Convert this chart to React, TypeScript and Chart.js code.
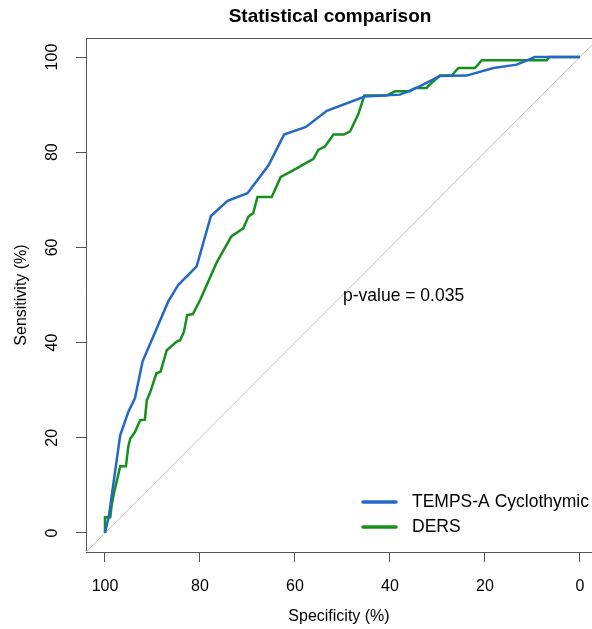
import React, { useEffect, useRef } from "react";
import { Chart, registerables } from "chart.js";

Chart.register(...registerables);

const FONT = '"Liberation Sans", Arial, Helvetica, sans-serif';

const chartTitle = "Statistical comparison";
const xTitle = "Specificity (%)";
const yTitle = "Sensitivity (%)";
const annotation = "p-value = 0.035";

const xTickValues = [100, 80, 60, 40, 20, 0];
const yTickValues = [0, 20, 40, 60, 80, 100];

const seriesNames = ["TEMPS-A Cyclothymic", "DERS"];
const seriesColors = ["#2468c6", "#16901a"];

const tempsSpec = [100, 99.2, 96.8, 95.1, 93.7, 92.1, 86.7, 84.6, 80.7, 77.7, 74.2, 70.0, 65.6, 62.3, 57.7, 53.3, 45.3, 37.9, 34.4, 29.5, 23.9, 18.2, 13.3, 9.5, 0];
const tempsSens = [0, 3.5, 20.5, 25.4, 28.3, 36.0, 48.6, 52.1, 56.0, 66.6, 69.8, 71.4, 77.2, 83.7, 85.3, 88.7, 91.7, 92.1, 93.5, 96.0, 96.1, 97.7, 98.4, 100, 100];

const dersSpec = [100, 100, 98.9, 98.6, 98.0, 97.5, 96.8, 95.6, 95.1, 94.7, 93.7, 92.6, 91.6, 91.2, 90.5, 89.2, 88.3, 87.0, 84.9, 84.2, 83.4, 82.7, 81.5, 80.0, 76.5, 73.4, 71.5, 70.9, 69.8, 68.8, 67.9, 64.9, 63.0, 60.4, 58.3, 56.1, 55.1, 53.7, 51.9, 49.7, 48.4, 46.7, 45.4, 40.8, 38.9, 35.8, 34.7, 32.3, 31.2, 29.5, 27.0, 25.6, 22.1, 20.7, 7.0, 6.5, 0];
const dersSens = [0, 3.3, 3.3, 5.8, 8.9, 11.0, 14.0, 14.0, 18.1, 19.8, 21.2, 23.7, 23.8, 27.9, 29.5, 33.5, 33.9, 38.4, 40.2, 40.5, 42.2, 45.8, 46.0, 48.9, 56.8, 62.3, 63.6, 64.0, 66.5, 67.2, 70.6, 70.6, 74.8, 76.2, 77.4, 78.6, 80.5, 81.2, 83.7, 83.7, 84.4, 87.9, 91.9, 91.9, 92.8, 92.8, 93.5, 93.5, 94.6, 96.1, 96.1, 97.7, 97.7, 99.3, 99.3, 100, 100];

const diagSpec = [104, -4];
const diagSens = [-4, 104];

const zip = (xs: number[], ys: number[]) => xs.map((x, i) => ({ x, y: ys[i] }));

const overlayPlugin = {
  id: "overlay",
  afterDraw(chart: any) {
    const { ctx, chartArea, scales } = chart;
    const ys = scales.y;
    ctx.save();
    // top frame line
    ctx.strokeStyle = "#555";
    ctx.lineWidth = 1;
    ctx.beginPath();
    ctx.moveTo(chartArea.left, Math.round(chartArea.top) + 0.5);
    ctx.lineTo(chartArea.right, Math.round(chartArea.top) + 0.5);
    ctx.stroke();

    // y tick labels (rotated, R style)
    ctx.fillStyle = "#000";
    ctx.font = `16px ${FONT}`;
    ctx.textAlign = "center";
    ctx.textBaseline = "middle";
    ys.ticks.forEach((t: any) => {
      const py = ys.getPixelForValue(t.value);
      ctx.save();
      ctx.translate(53, py);
      ctx.rotate(-Math.PI / 2);
      ctx.fillText(String(t.value), 0, 0);
      ctx.restore();
    });

    // main title
    ctx.font = `bold 19px ${FONT}`;
    ctx.textAlign = "center";
    ctx.fillText(chartTitle, 330, 17);

    // annotation
    ctx.font = `17.5px ${FONT}`;
    ctx.textAlign = "left";
    ctx.fillText(annotation, 343, 296);

    // legend (in series order)
    seriesNames.forEach((name, i) => {
      const d = chart.data.datasets.find((ds: any) => ds.label === name);
      const y = 502 + i * 25;
      ctx.strokeStyle = d ? d.borderColor : seriesColors[i];
      ctx.lineWidth = 3.5;
      ctx.lineCap = "round";
      ctx.beginPath();
      ctx.moveTo(363, y);
      ctx.lineTo(396, y);
      ctx.stroke();
      ctx.fillStyle = "#000";
      ctx.font = `17.5px ${FONT}`;
      ctx.fillText(name, 412, y);
    });
    ctx.restore();
  },
};

export default function App() {
  const ref = useRef<HTMLCanvasElement | null>(null);
  useEffect(() => {
    if (!ref.current) return;
    const chart = new Chart(ref.current, {
      type: "scatter",
      data: {
        datasets: [
          {
            label: "",
            data: zip(diagSpec, diagSens),
            showLine: true,
            borderColor: "#c4c4c4",
            borderWidth: 1,
            pointRadius: 0,
            tension: 0,
            order: 3,
          },
          {
            label: seriesNames[1],
            data: zip(dersSpec, dersSens),
            showLine: true,
            borderColor: seriesColors[1],
            borderWidth: 2.5,
            pointRadius: 0,
            tension: 0,
            order: 2,
          },
          {
            label: seriesNames[0],
            data: zip(tempsSpec, tempsSens),
            showLine: true,
            borderColor: seriesColors[0],
            borderWidth: 2.5,
            pointRadius: 0,
            tension: 0,
            order: 1,
          },
        ],
      },
      options: {
        animation: false,
        responsive: false,
        devicePixelRatio: 1,
        layout: { padding: { top: 38, left: 0, right: 0, bottom: 0 } },
        plugins: {
          legend: { display: false },
          title: { display: false },
          tooltip: { enabled: false },
        },
        scales: {
          x: {
            type: "linear",
            reverse: true,
            min: -2.53,
            max: 104,
            afterBuildTicks: (s: any) => {
              s.ticks = xTickValues.map((v) => ({ value: v }));
            },
            afterFit: (s: any) => {
              s.height = 77;
              s.paddingLeft = 0;
              s.paddingRight = 0;
            },
            ticks: {
              autoSkip: false,
              maxRotation: 0,
              minRotation: 0,
              color: "#000",
              padding: 15,
              font: { family: FONT, size: 16, lineHeight: 1.2 },
              callback: (v: any) => String(v),
            },
            grid: {
              display: true,
              drawOnChartArea: false,
              drawTicks: true,
              tickLength: 10,
              color: "#555",
            },
            border: { display: true, color: "#555" },
            title: {
              display: true,
              text: xTitle,
              color: "#000",
              font: { family: FONT, size: 16, lineHeight: 1.2 },
              padding: { top: 0, bottom: 2.4 },
            },
          },
          y: {
            type: "linear",
            min: -4,
            max: 104,
            afterBuildTicks: (s: any) => {
              s.ticks = yTickValues.map((v) => ({ value: v }));
            },
            afterFit: (s: any) => {
              s.width = 86;
              s.paddingTop = 0;
              s.paddingBottom = 0;
            },
            ticks: { display: false },
            grid: {
              display: true,
              drawOnChartArea: false,
              drawTicks: true,
              tickLength: 10,
              color: "#555",
            },
            border: { display: true, color: "#555" },
            title: {
              display: true,
              text: yTitle,
              color: "#000",
              font: { family: FONT, size: 16, lineHeight: 1.2 },
              padding: { top: 12.4, bottom: 0 },
            },
          },
        },
      },
      plugins: [overlayPlugin],
    });
    return () => chart.destroy();
  }, []);

  return (
    <div style={{ position: "fixed", left: 0, top: 0, width: 592, height: 629, background: "#fff", overflow: "hidden" }}>
      <canvas ref={ref} width={592} height={629} style={{ display: "block" }} />
    </div>
  );
}
